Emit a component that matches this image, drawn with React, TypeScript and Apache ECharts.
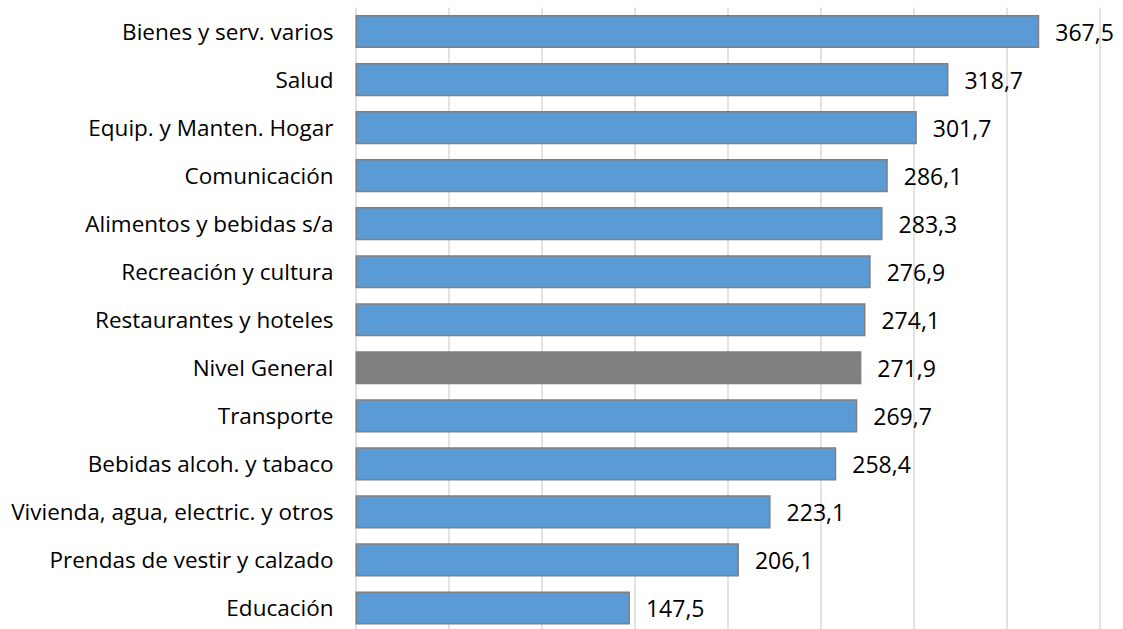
import React, { useEffect, useRef } from "react";
import * as echarts from "echarts";

const categories = [
  "Bienes y serv. varios",
  "Salud",
  "Equip. y Manten. Hogar",
  "Comunicación",
  "Alimentos y bebidas s/a",
  "Recreación y cultura",
  "Restaurantes y hoteles",
  "Nivel General",
  "Transporte",
  "Bebidas alcoh. y tabaco",
  "Vivienda, agua, electric. y otros",
  "Prendas de vestir y calzado",
  "Educación",
];
const values = [367.5, 318.7, 301.7, 286.1, 283.3, 276.9, 274.1, 271.9, 269.7, 258.4, 223.1, 206.1, 147.5];
const highlight = "Nivel General";

export default function App() {
  const ref = useRef<HTMLDivElement>(null);
  useEffect(() => {
    const chart = echarts.init(ref.current!, null, { renderer: "svg" });
    const font = "'Open Sans', Roboto, sans-serif";
    chart.setOption({
      animation: false,
      grid: { left: 355.5, right: 23.3, top: 7.5, bottom: 0, containLabel: false },
      xAxis: {
        type: "value",
        min: 0,
        max: 400,
        interval: 50,
        axisLabel: { show: false },
        axisLine: { show: false },
        axisTick: { show: false },
        splitLine: { show: true, lineStyle: { color: "#d9d9d9", width: 1.5 } },
      },
      yAxis: {
        type: "category",
        inverse: true,
        data: categories,
        axisLine: { show: false },
        axisTick: { show: false },
        axisLabel: { color: "#000", fontSize: 22.5, fontFamily: font, margin: 22 },
      },
      series: [
        {
          type: "bar",
          barCategoryGap: "31%",
          data: values.map((v, i) => ({
            value: v,
            itemStyle: {
              color: categories[i] === highlight ? "#808080" : "#5b9bd5",
              borderColor: "#7f7f7f",
              borderWidth: 1.5,
            },
          })),
          label: {
            show: true,
            position: "right",
            distance: 16,
            color: "#000",
            fontSize: 23,
            fontFamily: font,
            formatter: (p: any) => p.value.toFixed(1).replace(".", ","),
          },
        },
      ],
    });
    return () => chart.dispose();
  }, []);
  return (
    <div
      ref={ref}
      style={{ position: "absolute", left: 0, top: 0, width: 1123, height: 632, background: "#fff" }}
    />
  );
}
